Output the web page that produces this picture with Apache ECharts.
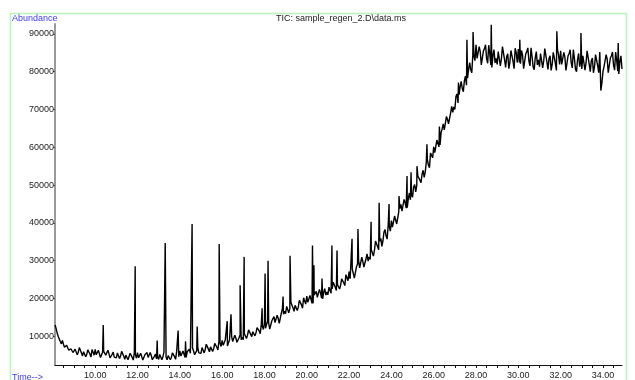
<!DOCTYPE html>
<html>
<head>
<meta charset="utf-8">
<script src="https://cdn.jsdelivr.net/npm/echarts@6/dist/echarts.min.js"></script>
<style>
  html, body { margin: 0; padding: 0; background: #fff; }
  #chart { width: 635px; height: 380px; }
</style>
</head>
<body>
<div id="chart"></div>
<script>
// scan grid of the TIC trace (minutes): whole tenths and the half steps between them
const tStart = 8.1;
const tHalfStart = 8.15;
const tStep = 0.1;

// TIC abundance at 8.1, 8.2, ... 34.9 min (one row per minute)
const tic = [
  13000, 10900, 9700, 8000, 7900, 6600, 7400, 6000, 6900,
  5300, 6600, 5800, 6800, 4800, 6100, 5200, 6500, 4500, 6000,
  6500, 5000, 5800, 4300, 6000, 5000, 6300, 4300, 5200, 4500,
  4300, 5600, 4800, 5900, 3900, 5200, 4300, 5600, 3700, 5200,
  5700, 4200, 5000, 3600, 5400, 4400, 5700, 3800, 4700, 4000,
  3900, 5300, 4600, 5700, 3800, 5200, 4400, 5800, 3900, 5500,
  6100, 4700, 5700, 4400, 6300, 5500, 6900, 5100, 6200, 5600,
  5500, 7100, 6500, 7800, 5900, 7500, 6700, 8300, 6400, 8300,
  8900, 7600, 8700, 7300, 9500, 8600, 10300, 8400, 9600, 9100,
  9100, 10800, 10300, 11700, 9900, 11500, 10900, 12600, 10700, 12700,
  13700, 12100, 13500, 11900, 14600, 13600, 15600, 13400, 16200, 15800,
  16000, 18000, 17300, 19000, 16600, 18600, 17700, 19700, 17400, 19700,
  20600, 18900, 20300, 18700, 21300, 20300, 22400, 20100, 21600, 20900,
  21000, 23200, 22500, 24300, 22100, 24200, 23500, 25600, 23400, 25800,
  27100, 25300, 27300, 25500, 29100, 28100, 30900, 28300, 30500, 29900,
  30300, 33300, 32800, 35400, 32900, 35900, 35200, 38200, 35700, 39100,
  40600, 39100, 41400, 39900, 43800, 43100, 46200, 43900, 46400, 46100,
  46800, 50100, 49900, 52800, 50600, 53900, 53500, 56800, 54600, 58300,
  60100, 59000, 61700, 60600, 64900, 64600, 68100, 66200, 69100, 69200,
  70000, 74100, 73900, 77400, 74700, 78800, 78300, 82400, 79700, 84200,
  87100, 83200, 85300, 81400, 86100, 83500, 87000, 81800, 84300, 82300,
  81900, 85300, 83400, 86300, 81100, 84700, 82400, 85900, 80800, 85000,
  86000, 82100, 84400, 80500, 85300, 82800, 86300, 81200, 83700, 81800,
  81300, 84800, 82900, 85800, 80600, 84200, 81900, 85400, 80300, 84500,
  85500, 81600, 83900, 80000, 84800, 82300, 85800, 80700, 83200, 81300,
  80700, 84200, 82300, 85200, 80000, 83600, 81300, 84800, 79700, 75000,
  80000, 81000, 83300, 79400, 84200, 81700, 85200, 80100, 82600, 80700
];

// TIC abundance at 8.15, 8.25, ... 34.85 min
const ticHalf = [
  12100, 10000, 8600, 8900, 7100, 7600, 6300, 6700, 5700,
  6600, 5100, 7000, 5600, 5900, 4600, 6400, 5300, 6500, 5000,
  5100, 6300, 4400, 5800, 6400, 4500, 5400, 4000, 5800, 4900,
  5600, 4100, 6000, 4700, 5000, 3800, 5500, 4400, 5700, 4200,
  4300, 5500, 3700, 5100, 5700, 3900, 4900, 3600, 5300, 4500,
  5200, 3800, 5800, 4500, 4900, 3800, 5600, 4600, 6000, 4600,
  4800, 6100, 4400, 5900, 6600, 5000, 6100, 5000, 6900, 6100,
  7000, 5600, 7900, 6600, 7200, 6000, 8100, 7100, 8700, 7300,
  7600, 9100, 7400, 9100, 9900, 8200, 9500, 8200, 10400, 9700,
  10700, 9400, 11700, 10500, 11200, 10100, 12300, 11400, 13100, 11800,
  12100, 14000, 11900, 14100, 15200, 13100, 14700, 13800, 17300, 16600,
  17900, 16200, 19000, 17500, 18200, 16800, 19500, 18300, 20200, 18500,
  19000, 20800, 18700, 20900, 21900, 19800, 21400, 19900, 22600, 21700,
  23000, 21400, 24300, 22900, 23700, 22500, 25200, 24100, 26300, 24700,
  25200, 27800, 25400, 28400, 30000, 27600, 29800, 28200, 31800, 31000,
  32900, 31200, 35200, 33700, 35100, 33800, 37600, 36500, 39500, 37800,
  38900, 41800, 39700, 43000, 44900, 42800, 45300, 44000, 47900, 47400,
  49500, 48200, 52400, 51300, 52900, 52000, 56000, 55300, 58500, 57200,
  58600, 61900, 60100, 63900, 66200, 64500, 67400, 66500, 70800, 70700,
  73400, 71700, 76000, 75600, 77600, 76400, 80600, 80500, 84600, 82900,
  83500, 86600, 81800, 85500, 87100, 82200, 84700, 81100, 85800, 83500,
  85300, 81500, 86600, 83100, 84000, 80800, 85600, 82700, 86200, 82400,
  82400, 85600, 80800, 84700, 86300, 81500, 84000, 80500, 85300, 83100,
  84800, 81000, 86100, 82600, 83500, 80300, 85100, 82200, 85800, 81900,
  81900, 85100, 80300, 84200, 85800, 81000, 83500, 80000, 84800, 82600,
  84200, 80400, 85500, 82000, 82900, 79700, 84500, 81600, 85200, 77000,
  81300, 84500, 79700, 83600, 85200, 80400, 82900, 79400, 84200
];

// narrow peaks sitting on the baseline
const peakTimes = [
  10.38, 11.89, 12.93, 13.31, 13.92, 14.27, 14.58, 14.82, 15.86, 16.24,
  16.42, 16.85, 17.04, 17.89, 18.03, 18.17, 18.88, 19.21, 20.27, 20.34,
  20.72, 21.19, 21.43, 22.14, 22.42, 23.04, 23.42, 23.89, 24.36, 24.74,
  24.93, 25.21, 25.68, 26.27, 27.17, 27.57, 27.86, 28.72, 30.07, 31.82,
  32.96, 34.72
];
const peakHeights = [
  13000, 28500, 8900, 34700, 11500, 8700, 39700, 12600, 34400, 14000,
  15800, 23500, 31000, 17400, 26600, 30000, 20500, 31300, 34000, 28800,
  25300, 34000, 32700, 35800, 38400, 40300, 45300, 45000, 47100, 52400,
  53400, 55000, 60800, 65500, 77100, 88400, 90500, 92400, 88400, 90700,
  90200, 87600
];

const timeLabels = [10, 12, 14, 16, 18, 20, 22, 24, 26, 28, 30, 32, 34];
const timeTicks = [8.5, 9, 9.5, 10, 10.5, 11, 11.5, 12, 12.5, 13, 13.5, 14, 14.5,
  15, 15.5, 16, 16.5, 17, 17.5, 18, 18.5, 19, 19.5, 20, 20.5, 21, 21.5, 22, 22.5,
  23, 23.5, 24, 24.5, 25, 25.5, 26, 26.5, 27, 27.5, 28, 28.5, 29, 29.5, 30, 30.5,
  31, 31.5, 32, 32.5, 33, 33.5, 34, 34.5];
const abundanceLabels = [10000, 20000, 30000, 40000, 50000, 60000, 70000, 80000, 90000];

const points = tic.map((v, i) => [+(tStart + i * tStep).toFixed(2), v]);
ticHalf.forEach((v, i) => points.push([+(tHalfStart + i * tStep).toFixed(2), v]));
peakTimes.forEach((t, i) => points.push([t, peakHeights[i]]));
points.sort((a, b) => a[0] - b[0]);

const chart = echarts.init(document.getElementById("chart"), null, { renderer: "canvas" });

const font = "Arial, 'Liberation Sans', sans-serif";

const option = {
  backgroundColor: "#fff",
  animation: false,
  grid: { left: 55, right: 13, top: 24, bottom: 13 },
  graphic: [
    {
      type: "rect",
      shape: { x: 10.5, y: 13.5, width: 616, height: 380 },
      style: { fill: "none", stroke: "#b9f3b9", lineWidth: 1.5 },
      silent: true
    },
    {
      type: "text",
      left: 12, top: 14,
      style: { text: "Abundance", fill: "#3a3aff", font: "9px " + font }
    },
    {
      type: "text",
      left: 276, top: 14,
      style: { text: "TIC: sample_regen_2.D\\data.ms", fill: "#222", font: "9px " + font }
    },
    {
      type: "text",
      left: 12, top: 373,
      style: { text: "Time-->", fill: "#3a3aff", font: "9px " + font }
    }
  ],
  xAxis: {
    type: "value",
    min: 8.1,
    max: 34.9,
    axisLine: { lineStyle: { color: "#111", width: 1 } },
    axisTick: { show: true, length: 3, customValues: timeTicks, lineStyle: { color: "#111" } },
    axisLabel: {
      customValues: timeLabels,
      formatter: (v) => v.toFixed(2),
      color: "#222",
      fontSize: 9,
      fontFamily: font,
      margin: 6
    },
    splitLine: { show: false }
  },
  yAxis: {
    type: "value",
    min: 2400,
    max: 92600,
    axisLine: { show: true, lineStyle: { color: "#9a9a9a", width: 2 } },
    axisTick: { show: true, length: 2, customValues: abundanceLabels, lineStyle: { color: "#555" } },
    axisLabel: {
      customValues: abundanceLabels,
      formatter: (v) => String(v),
      color: "#222",
      fontSize: 9,
      fontFamily: font,
      margin: 1
    },
    splitLine: { show: false }
  },
  series: [
    {
      type: "line",
      data: points,
      showSymbol: false,
      sampling: null,
      lineStyle: { color: "#000", width: 1.4 }
    }
  ]
};

chart.setOption(option);
</script>
</body>
</html>
